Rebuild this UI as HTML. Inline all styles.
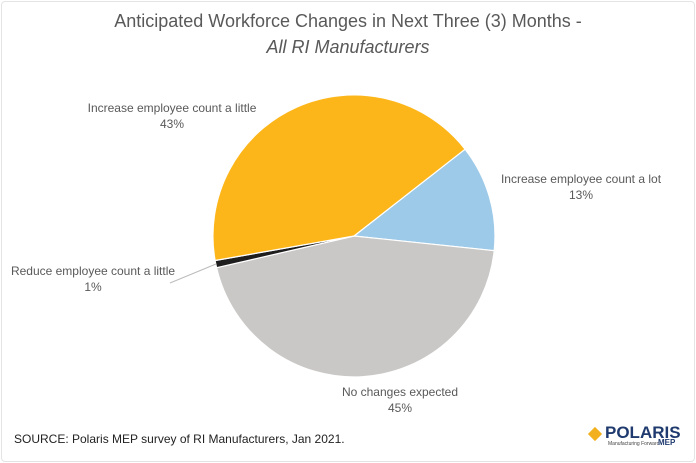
<html><head><style>
body{margin:0;width:696px;height:463px;background:#fff;font-family:"Liberation Sans",sans-serif;overflow:hidden}
.t{position:absolute;color:#595959;white-space:nowrap}
</style></head><body>
<div style="position:absolute;left:1px;top:1px;width:692px;height:459px;border:1px solid #e4e4e4;border-radius:4px"></div>
<div class="t" style="left:0;width:696px;text-align:center;top:11px;font-size:18px">Anticipated Workforce Changes in Next Three (3) Months -</div>
<div class="t" style="left:0;width:696px;text-align:center;top:37px;font-size:18px;font-style:italic">All RI Manufacturers</div>
<svg style="position:absolute;left:0;top:0" width="696" height="463">
<g stroke="#fff" stroke-width="1.2">
<path d="M354,236 L465.1,149.2 A141,141 0 0 1 494.2,250.7 Z" fill="#9DCAE8"/>
<path d="M354,236 L494.2,250.7 A141,141 0 0 1 216.6,267.7 Z" fill="#C9C8C6"/>
<path d="M354,236 L216.6,267.7 A141,141 0 0 1 215.1,260.5 Z" fill="#1e1e1e"/>
<path d="M354,236 L215.1,260.5 A141,141 0 0 1 465.1,149.2 Z" fill="#FDB61A"/>
</g>
<line x1="170" y1="283" x2="216" y2="264" stroke="#bbb" stroke-width="1"/>
</svg>
<div class="t" style="left:80px;top:100px;font-size:12px;text-align:center;width:184px;line-height:16px">Increase employee count a little<br>43%</div>
<div class="t" style="left:493px;top:171px;font-size:12px;text-align:center;width:176px;line-height:16px">Increase employee count a lot<br>13%</div>
<div class="t" style="left:8px;top:263px;font-size:12px;text-align:center;width:170px;line-height:16px">Reduce employee count a little<br>1%</div>
<div class="t" style="left:340px;top:384px;font-size:12px;text-align:center;width:120px;line-height:16px">No changes expected<br>45%</div>
<div class="t" style="left:14px;top:432px;font-size:12px;color:#222">SOURCE: Polaris MEP survey of RI Manufacturers, Jan 2021.</div>
<div style="position:absolute;left:590px;top:429px;width:10px;height:10px;background:#F2B01E;transform:rotate(45deg)"></div>
<div class="t" style="left:605px;top:423px;font-size:17px;font-weight:bold;color:#1F3A6E">POLARIS</div>
<div class="t" style="left:608px;top:441px;font-size:5px;color:#444">Manufacturing Forward</div>
<div class="t" style="left:658px;top:438px;font-size:8px;font-weight:bold;color:#1F3A6E">MEP</div>
</body></html>
